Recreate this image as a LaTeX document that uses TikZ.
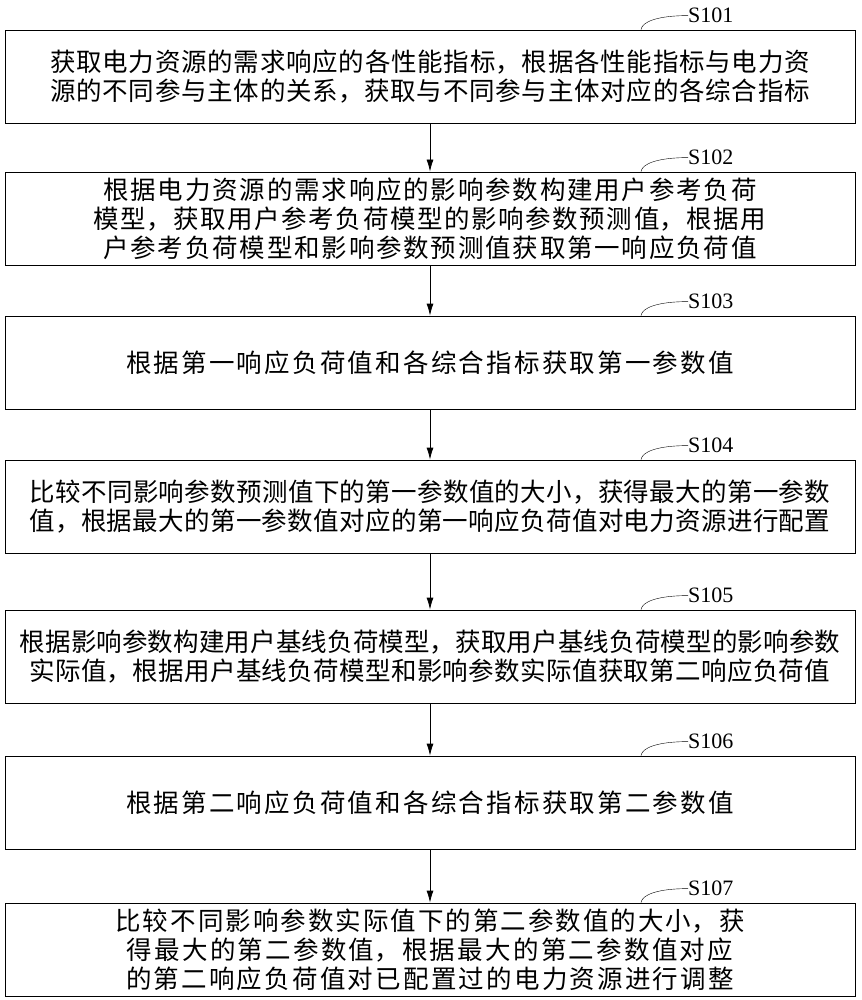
\documentclass[tikz,border=0pt]{standalone}
\usepackage{fontspec}
\usetikzlibrary{arrows.meta}
\setmainfont{Liberation Serif}
\newfontfamily\cjk{Noto Sans CJK SC}
\XeTeXlinebreaklocale "zh"
\XeTeXlinebreakskip=0pt plus 1pt
\tikzset{
  stepbox/.style={draw, thick, minimum width=850pt, minimum height=93pt, text width=836pt, align=center, inner sep=0pt, font=\cjk\fontsize{25.5}{29}\selectfont},
  steplabel/.style={anchor=west, inner sep=0pt, font=\fontsize{22}{24}\selectfont},
}
\begin{document}
\begin{tikzpicture}[x=1pt, y=-1pt, >={Latex[length=12pt,width=7pt]}]
        \useasboundingbox (0,0) rectangle (861,1000);

        \node[stepbox] (s1) at (430,76.5) {获取电力资源的需求响应的各性能指标，根据各性能指标与电力资源的不同参与主体的关系，获取与不同参与主体对应的各综合指标};
        \node[stepbox] (s2) at (430,218.5) {根据电力资源的需求响应的影响参数构建用户参考负荷模型，获取用户参考负荷模型的影响参数预测值，根据用户参考负荷模型和影响参数预测值获取第一响应负荷值};
        \node[stepbox] (s3) at (430,362.5) {根据第一响应负荷值和各综合指标获取第一参数值};
        \node[stepbox] (s4) at (430,506.5) {比较不同影响参数预测值下的第一参数值的大小，获得最大的第一参数值，根据最大的第一参数值对应的第一响应负荷值对电力资源进行配置};
        \node[stepbox] (s5) at (430,656.5) {根据影响参数构建用户基线负荷模型，获取用户基线负荷模型的影响参数实际值，根据用户基线负荷模型和影响参数实际值获取第二响应负荷值};
        \node[stepbox] (s6) at (430,802.5) {根据第二响应负荷值和各综合指标获取第二参数值};
        \node[stepbox] (s7) at (430,949.5) {比较不同影响参数实际值下的第二参数值的大小，获得最大的第二参数值，根据最大的第二参数值对应的第二响应负荷值对已配置过的电力资源进行调整};

        \draw[->, thick] (s1) -- (s2);
        \draw[->, thick] (s2) -- (s3);
        \draw[->, thick] (s3) -- (s4);
        \draw[->, thick] (s4) -- (s5);
        \draw[->, thick] (s5) -- (s6);
        \draw[->, thick] (s6) -- (s7);

        \node[steplabel] (l1) at ([xshift=258pt, yshift=14pt]s1.north) {S101};
        \node[steplabel] (l2) at ([xshift=258pt, yshift=14pt]s2.north) {S102};
        \node[steplabel] (l3) at ([xshift=258pt, yshift=14pt]s3.north) {S103};
        \node[steplabel] (l4) at ([xshift=258pt, yshift=14pt]s4.north) {S104};
        \node[steplabel] (l5) at ([xshift=258pt, yshift=14pt]s5.north) {S105};
        \node[steplabel] (l6) at ([xshift=258pt, yshift=14pt]s6.north) {S106};
        \node[steplabel] (l7) at ([xshift=258pt, yshift=14pt]s7.north) {S107};

        \draw (l1.west) .. controls ([xshift=-30pt]l1.west) and ([xshift=212pt, yshift=8pt]s1.north) .. ([xshift=211pt]s1.north);
        \draw (l2.west) .. controls ([xshift=-30pt]l2.west) and ([xshift=212pt, yshift=8pt]s2.north) .. ([xshift=211pt]s2.north);
        \draw (l3.west) .. controls ([xshift=-30pt]l3.west) and ([xshift=212pt, yshift=8pt]s3.north) .. ([xshift=211pt]s3.north);
        \draw (l4.west) .. controls ([xshift=-30pt]l4.west) and ([xshift=212pt, yshift=8pt]s4.north) .. ([xshift=211pt]s4.north);
        \draw (l5.west) .. controls ([xshift=-30pt]l5.west) and ([xshift=212pt, yshift=8pt]s5.north) .. ([xshift=211pt]s5.north);
        \draw (l6.west) .. controls ([xshift=-30pt]l6.west) and ([xshift=212pt, yshift=8pt]s6.north) .. ([xshift=211pt]s6.north);
        \draw (l7.west) .. controls ([xshift=-30pt]l7.west) and ([xshift=212pt, yshift=8pt]s7.north) .. ([xshift=211pt]s7.north);
    \end{tikzpicture}
\end{document}
